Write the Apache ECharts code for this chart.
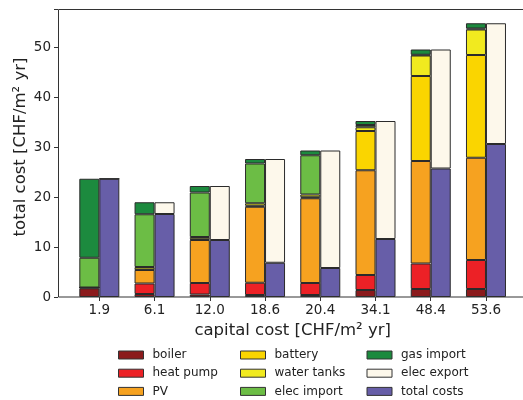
<!DOCTYPE html>
<html>
<head>
<meta charset="utf-8">
<script src="https://cdn.jsdelivr.net/npm/echarts@6/dist/echarts.min.js"></script>
<style>html,body{margin:0;padding:0;background:#fff;}#c{width:523px;height:400px;}</style>
</head>
<body>
<div id="c"></div>
<script>
const categories = ['1.9', '6.1', '12.0', '18.6', '20.4', '34.1', '48.4', '53.6'];
const boiler     = [1.75, 0.6, 0.5, 0.4, 0.4, 1.4, 1.6, 1.6];
const heatPump   = [0.15, 2.1, 2.3, 2.45, 2.4, 3.0, 5.1, 5.8];
const pv         = [0, 2.7, 8.6, 15.2, 16.95, 20.95, 20.5, 20.45];
const battery    = [0, 0.1, 0.15, 0.2, 0.2, 7.85, 17.0, 20.55];
const waterTanks = [0, 0.5, 0.45, 0.5, 0.55, 0.75, 4.1, 5.1];
const elecImport = [5.95, 10.55, 8.9, 7.95, 7.85, 0.45, 0.15, 0.2];
const gasImport  = [15.8, 2.4, 1.3, 0.9, 0.95, 0.8, 1.05, 1.05];
const totalCosts = [23.65, 16.6, 11.4, 6.85, 5.8, 11.6, 25.7, 30.6];
const elecExport = [0, 2.35, 10.8, 20.75, 23.5, 23.6, 23.8, 24.15];
const yTicks = [0, 10, 20, 30, 40, 50];

const colors = {
  'boiler': '#8b1a1c',
  'heat pump': '#ec2126',
  'PV': '#f6a220',
  'battery': '#fad500',
  'water tanks': '#f1ea1f',
  'elec import': '#6cbd45',
  'gas import': '#1c8a3e',
  'elec export': '#fdf8eb',
  'total costs': '#675ea8'
};
const FONT = 'DejaVu Sans';
const border = '#2b2b2b';

function bar(name, data, stack) {
  return {
    name: name, type: 'bar', stack: stack, data: data,
    barWidth: 20, barGap: '0%',
    itemStyle: { color: colors[name], borderColor: border, borderWidth: 1 },
    emphasis: { disabled: true }
  };
}

const series = [
  bar('boiler', boiler, 'a'),
  bar('heat pump', heatPump, 'a'),
  bar('PV', pv, 'a'),
  bar('battery', battery, 'a'),
  bar('water tanks', waterTanks, 'a'),
  bar('elec import', elecImport, 'a'),
  bar('gas import', gasImport, 'a'),
  bar('total costs', totalCosts, 'b'),
  bar('elec export', elecExport, 'b')
];

function legendCol(names, left) {
  return {
    data: names, orient: 'vertical', left: left, top: 349, height: 50,
    padding: 0,
    itemWidth: 25, itemHeight: 8, itemGap: 6.2,
    icon: 'rect', selectedMode: false,
    itemStyle: { borderColor: '#333', borderWidth: 1 },
    textStyle: { fontFamily: FONT, fontSize: 12, color: '#222', lineHeight: 12, padding: [0, 0, 0, 4] }
  };
}

const chart = echarts.init(document.getElementById('c'), null, { renderer: 'canvas' });
chart.setOption({
  animation: false,
  backgroundColor: '#fff',
  grid: { left: 71.7, right: 9.4, top: 9, bottom: 103, containLabel: false },
  xAxis: {
    type: 'category', data: categories,
    axisLine: { show: false },
    axisTick: { show: true, alignWithLabel: true, length: 4, lineStyle: { color: '#333' } },
    axisLabel: { fontFamily: FONT, fontSize: 13.5, color: '#222', margin: 6 },
    name: 'capital cost [CHF/m² yr]', nameLocation: 'middle', nameGap: 24,
    nameTextStyle: { fontFamily: FONT, fontSize: 16.5, color: '#222' }
  },
  yAxis: {
    type: 'value', min: 0, max: 57.6, interval: 10, offset: 13.7,
    axisLine: { show: false },
    axisTick: { show: true, length: 4, lineStyle: { color: '#333' } },
    splitLine: { show: false },
    axisLabel: { fontFamily: FONT, fontSize: 13.5, color: '#222', margin: 7,
      formatter: v => (yTicks.indexOf(v) >= 0 ? String(v) : '') }
  },
  legend: [
    legendCol(['boiler', 'heat pump', 'PV'], 118),
    legendCol(['battery', 'water tanks', 'elec import'], 240),
    legendCol(['gas import', 'elec export', 'total costs'], 366.5)
  ],
  graphic: [{
    type: 'rect', z: 100, silent: true,
    shape: { x: 58.5, y: 9.5, width: 480, height: 287.5 },
    style: { fill: null, stroke: '#333', lineWidth: 1 }
  }, {
    type: 'text', silent: true, x: 20.5, y: 147, rotation: Math.PI / 2,
    style: { text: 'total cost [CHF/m² yr]', fontFamily: FONT, fontSize: 16.5, fill: '#222',
      align: 'center', verticalAlign: 'middle' }
  }],
  series: series
});
</script>
</body>
</html>
